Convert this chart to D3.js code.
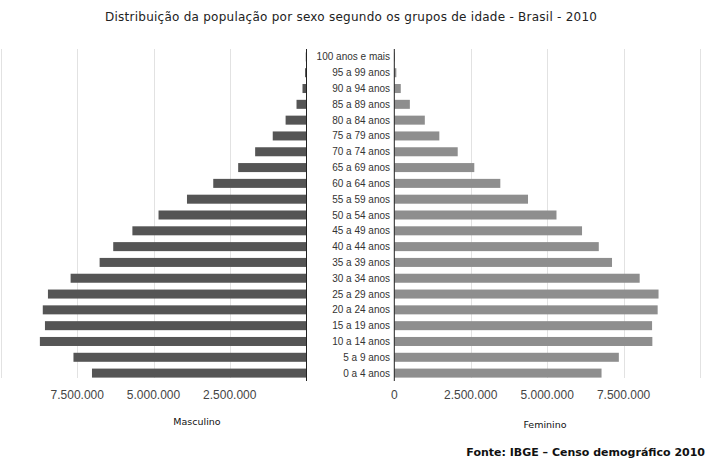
<!DOCTYPE html>
<html>
<head>
<meta charset="utf-8">
<script src="https://cdn.jsdelivr.net/npm/d3@7"></script>
<style>
  body { margin: 0; background: #fff; }
</style>
</head>
<body>
<div id="chart"></div>
<script>
// age groups, bottom to top
const ageGroups = [
  "0 a 4 anos", "5 a 9 anos", "10 a 14 anos", "15 a 19 anos", "20 a 24 anos",
  "25 a 29 anos", "30 a 34 anos", "35 a 39 anos", "40 a 44 anos", "45 a 49 anos",
  "50 a 54 anos", "55 a 59 anos", "60 a 64 anos", "65 a 69 anos", "70 a 74 anos",
  "75 a 79 anos", "80 a 84 anos", "85 a 89 anos", "90 a 94 anos", "95 a 99 anos",
  "100 anos e mais"
]
const masculino = [
  7016987, 7624144, 8725413, 8558868, 8630227, 8460995, 7717657, 6766665,
  6320570, 5692013, 4834995, 3902344, 3041034, 2224065, 1667373, 1090518,
  668623, 310759, 114964, 31529, 7247
]
const feminino = [
  6779171, 7345231, 8441348, 8432002, 8614963, 8643418, 8026855, 7121916,
  6688797, 6141338, 5305407, 4373875, 3468085, 2616745, 2074264, 1472930,
  998349, 508724, 211594, 66806, 16989
]
const tickValues = [0, 2500000, 5000000, 7500000, 10000000]
const leftTickLabels = ["", "2.500.000", "5.000.000", "7.500.000", ""]
const rightTickLabels = ["0", "2.500.000", "5.000.000", "7.500.000", ""]

const width = 711, height = 462
const plotTop = 49, plotBottom = 381

const svg = d3.select("#chart").append("svg")
  .attr("width", width)
  .attr("height", height)
  .style("font-family", "'Liberation Sans', Arial, sans-serif")

const maxV = 10000000
const xL = d3.scaleLinear().domain([0, maxV]).range([306, 1])
const xR = d3.scaleLinear().domain([0, maxV]).range([394.3, 700])

const y = d3.scaleBand()
  .domain(ageGroups.slice().reverse())
  .range([plotTop, plotBottom])
  .paddingInner(0.43)
  .paddingOuter(0.215)

// gridlines
const grid = svg.append("g").attr("stroke", "#e2e2e2").attr("stroke-width", 1)
grid.selectAll("line.l")
  .data(tickValues.slice(1))
  .enter().append("line")
    .attr("class", "l")
    .attr("x1", d => Math.round(xL(d)) + 0.5)
    .attr("x2", d => Math.round(xL(d)) + 0.5)
    .attr("y1", plotTop)
    .attr("y2", 378)
grid.selectAll("line.r")
  .data(tickValues.slice(1))
  .enter().append("line")
    .attr("class", "r")
    .attr("x1", d => Math.round(xR(d)) + 0.5)
    .attr("x2", d => Math.round(xR(d)) + 0.5)
    .attr("y1", plotTop)
    .attr("y2", 378)

// bars
svg.append("g").selectAll("rect")
  .data(ageGroups)
  .enter().append("rect")
    .attr("x", (d, i) => xL(masculino[i]))
    .attr("y", d => y(d))
    .attr("width", (d, i) => xL(0) - xL(masculino[i]))
    .attr("height", y.bandwidth())
    .attr("fill", "#555555")

svg.append("g").selectAll("rect")
  .data(ageGroups)
  .enter().append("rect")
    .attr("x", xR(0))
    .attr("y", d => y(d))
    .attr("width", (d, i) => xR(feminino[i]) - xR(0))
    .attr("height", y.bandwidth())
    .attr("fill", "#8e8e8e")

// zero lines
svg.append("line")
  .attr("x1", xL(0) + 0.5).attr("x2", xL(0) + 0.5)
  .attr("y1", plotTop).attr("y2", plotBottom)
  .attr("stroke", "#222")
svg.append("line")
  .attr("x1", xR(0)).attr("x2", xR(0))
  .attr("y1", plotTop).attr("y2", plotBottom)
  .attr("stroke", "#222")

// age labels
svg.append("g").selectAll("text")
  .data(ageGroups)
  .enter().append("text")
    .attr("x", 390)
    .attr("y", d => y(d) + y.bandwidth() / 2)
    .attr("dy", "0.35em")
    .attr("text-anchor", "end")
    .attr("font-size", 10)
    .attr("fill", "#333")
    .text(d => d)

// axis tick labels
svg.append("g").selectAll("text")
  .data(tickValues)
  .enter().append("text")
    .attr("x", d => xL(d))
    .attr("y", 395)
    .attr("dy", "0.35em")
    .attr("text-anchor", "middle")
    .attr("font-size", 12)
    .attr("fill", "#444")
    .text((d, i) => leftTickLabels[i])
svg.append("g").selectAll("text")
  .data(tickValues)
  .enter().append("text")
    .attr("x", d => xR(d))
    .attr("y", 395)
    .attr("dy", "0.35em")
    .attr("text-anchor", "middle")
    .attr("font-size", 12)
    .attr("fill", "#444")
    .text((d, i) => rightTickLabels[i])

// axis titles
svg.append("text")
  .attr("x", 197).attr("y", 422).attr("dy", "0.35em")
  .attr("text-anchor", "middle")
  .style("font-family", "'DejaVu Sans', Verdana, sans-serif")
  .attr("font-size", 9.5)
  .attr("fill", "#111")
  .text("Masculino")
svg.append("text")
  .attr("x", 545).attr("y", 425).attr("dy", "0.35em")
  .attr("text-anchor", "middle")
  .style("font-family", "'DejaVu Sans', Verdana, sans-serif")
  .attr("font-size", 9.5)
  .attr("fill", "#111")
  .text("Feminino")

// title
svg.append("text")
  .attr("x", 351).attr("y", 17).attr("dy", "0.35em")
  .attr("text-anchor", "middle")
  .style("font-family", "'DejaVu Sans', Verdana, sans-serif")
  .attr("font-size", 12)
  .attr("textLength", 492)
  .attr("lengthAdjust", "spacing")
  .attr("fill", "#222")
  .text("Distribuição da população por sexo segundo os grupos de idade - Brasil - 2010")

// source
svg.append("text")
  .attr("x", 705).attr("y", 452).attr("dy", "0.35em")
  .attr("text-anchor", "end")
  .style("font-family", "'DejaVu Sans', Verdana, sans-serif")
  .attr("font-size", 11)
  .attr("font-weight", "bold")
  .attr("fill", "#111")
  .text("Fonte: IBGE – Censo demográfico 2010")
</script>
</body>
</html>
